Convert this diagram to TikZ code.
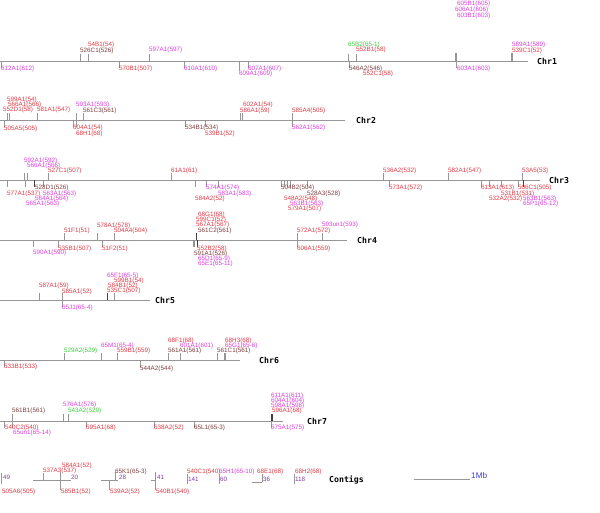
\documentclass[tikz,border=0pt]{standalone}
\usepackage{fontspec}
\setmainfont{Liberation Sans}
\newfontfamily\chrfont{DejaVu Sans Mono}
\usepackage{xcolor}
\usetikzlibrary{positioning}

\definecolor{lred}{RGB}{226,58,70}
\definecolor{lmag}{RGB}{222,62,222}
\definecolor{lgrn}{RGB}{60,206,60}
\definecolor{lbrn}{RGB}{128,62,62}
\definecolor{lpur}{RGB}{128,62,160}
\definecolor{lgray}{RGB}{150,150,150}
\definecolor{lblue}{RGB}{60,60,226}

\begin{document}
\begin{tikzpicture}[x=1pt, y=-1pt,
    lbl/.style={anchor=west, inner sep=0pt, font=\fontsize{6.3}{6.3}\selectfont},
    redlbl/.style={lbl, text=lred},
    maglbl/.style={lbl, text=lmag},
    grnlbl/.style={lbl, text=lgrn},
    brnlbl/.style={lbl, text=lbrn},
    purlbl/.style={lbl, text=lpur},
    chrname/.style={anchor=west, inner sep=0pt, font=\chrfont\bfseries\fontsize{8.2}{8.2}\selectfont},
    backbone/.style={draw=lgray, line width=0.8pt},
    tick/.style={draw=lgray, line width=0.8pt},
    darktick/.style={draw=black!75, line width=0.8pt}
]
    \path[fill=white, use as bounding box] (0,0) rectangle (600,513);

    % Chr1
    \coordinate (c1s) at (0,61);
    \coordinate (c1e) at (528,61);
    \draw[backbone] (c1s) -- (c1e);
    \node[chrname] (chr1) at (537,61) {Chr1};
    \draw[tick] (80,61) -- ++(0,-7) (88,61) -- ++(0,-7) (149,61) -- ++(0,-7)
        (348,61) -- ++(0,-7) (356,61) -- ++(0,-7)
        (1,61) -- ++(0,7) (119,61) -- ++(0,7) (184,61) -- ++(0,7) (239,61) -- ++(0,10)
        (248,61) -- ++(0,7) (349,61) -- ++(0,7) (456,61) -- ++(0,7);
    \draw[tick, line width=1.4pt] (456,61) -- ++(0,-8) (512,61) -- ++(0,-8);
    \node[maglbl] (c1a) at (1,69) {612A1(612)};
    \node[brnlbl] (c1b) at (80,51) {526C1(526)};
    \node[redlbl] (c1c) at (88,45) {54B1(54)};
    \node[redlbl] (c1d) at (119,69) {570B1(507)};
    \node[maglbl] (c1e) at (149,50) {597A1(597)};
    \node[maglbl] (c1f) at (184,69) {610A1(610)};
    \node[maglbl] (c1g) at (239,74) {609A1(609)};
    \node[maglbl] (c1h) at (248,69) {607A1(607)};
    \node[grnlbl] (c1i) at (348,45) {65B2(65-1)};
    \node[redlbl] (c1j) at (356,50) {552B1(58)};
    \node[brnlbl] (c1k) at (349,69) {546A2(546)};
    \node[redlbl] (c1l) at (363,74) {552C1(58)};
    \node[maglbl] (c1m) at (457,4) {605B1(605)};
    \node[maglbl] (c1n) at (455,10) {606A1(606)};
    \node[maglbl] (c1o) at (457,16) {603B1(603)};
    \node[maglbl] (c1p) at (457,69) {603A1(603)};
    \node[maglbl] (c1q) at (512,45) {589A1(589)};
    \node[redlbl] (c1r) at (512,51) {539C1(52)};

    % Chr2
    \coordinate (c2s) at (0,120);
    \coordinate (c2e) at (345,120);
    \draw[backbone] (c2s) -- (c2e);
    \node[chrname] (chr2) at (356,120) {Chr2};
    \draw[tick] (7,120) -- ++(0,-7) (9,120) -- ++(0,-7) (37,120) -- ++(0,-7)
        (76,120) -- ++(0,-7) (83,120) -- ++(0,-7) (240,120) -- ++(0,-7)
        (242,120) -- ++(0,-7) (292,120) -- ++(0,-7)
        (4,120) -- ++(0,7) (73,120) -- ++(0,7) (76,120) -- ++(0,7)
        (185,120) -- ++(0,7) (205,120) -- ++(0,7) (292,120) -- ++(0,7);
    \node[redlbl] (c2a) at (7,100) {599A1(54)};
    \node[redlbl] (c2b) at (8,105) {566A1(566)};
    \node[redlbl] (c2c) at (3,110) {552D1(58)};
    \node[redlbl] (c2d) at (37,110) {581A1(547)};
    \node[maglbl] (c2e) at (76,105) {593A1(593)};
    \node[brnlbl] (c2f) at (83,111) {561C3(561)};
    \node[redlbl] (c2g) at (4,129) {505A5(505)};
    \node[redlbl] (c2h) at (73,128) {604A1(54)};
    \node[redlbl] (c2i) at (76,134) {68H1(68)};
    \node[brnlbl] (c2j) at (185,128) {534B1(534)};
    \node[redlbl] (c2k) at (205,134) {539B1(52)};
    \node[redlbl] (c2l) at (243,105) {602A1(54)};
    \node[redlbl] (c2m) at (240,111) {586A1(59)};
    \node[redlbl] (c2n) at (292,111) {585A4(505)};
    \node[maglbl] (c2o) at (292,128) {562A1(562)};

    % Chr3
    \coordinate (c3s) at (0,180);
    \coordinate (c3e) at (540,180);
    \draw[backbone] (c3s) -- (c3e);
    \node[chrname] (chr3) at (549,180) {Chr3};
    \draw[tick] (24,180) -- ++(0,-7) (27,180) -- ++(0,-7) (48,180) -- ++(0,-7)
        (171,180) -- ++(0,-7) (383,180) -- ++(0,-7) (448,180) -- ++(0,-7) (522,180) -- ++(0,-7)
        (7,180) -- ++(0,7) (25,180) -- ++(0,7) (43,180) -- ++(0,7) (195,180) -- ++(0,7)
        (206,180) -- ++(0,7) (218,180) -- ++(0,7) (281,180) -- ++(0,7) (284,180) -- ++(0,7)
        (287,180) -- ++(0,7) (290,180) -- ++(0,7) (307,180) -- ++(0,7) (389,180) -- ++(0,7)
        (481,180) -- ++(0,7) (489,180) -- ++(0,7) (501,180) -- ++(0,7) (518,180) -- ++(0,7);
    \draw[darktick] (34,180) -- ++(0,7) (523,180) -- ++(0,7);
    \node[maglbl] (c3a) at (24,161) {592A1(592)};
    \node[maglbl] (c3b) at (27,166) {566A1(566)};
    \node[redlbl] (c3c) at (48,171) {527C1(507)};
    \node[redlbl] (c3d) at (171,171) {61A1(61)};
    \node[redlbl] (c3e) at (7,194) {577A1(537)};
    \node[brnlbl] (c3f) at (35,188) {528D1(526)};
    \node[maglbl] (c3g) at (43,194) {563A1(563)};
    \node[maglbl] (c3h) at (35,199) {564A1(564)};
    \node[maglbl] (c3i) at (26,204) {565A1(563)};
    \node[maglbl] (c3j) at (206,188) {574A1(574)};
    \node[maglbl] (c3k) at (218,194) {583A1(583)};
    \node[redlbl] (c3l) at (195,199) {584A2(52)};
    \node[brnlbl] (c3m) at (281,188) {504B2(504)};
    \node[brnlbl] (c3n) at (307,194) {528A3(528)};
    \node[redlbl] (c3o) at (284,199) {548A2(548)};
    \node[maglbl] (c3p) at (290,204) {563B1(563)};
    \node[redlbl] (c3q) at (288,209) {579A1(507)};
    \node[redlbl] (c3r) at (383,171) {536A2(532)};
    \node[redlbl] (c3s) at (389,188) {573A1(572)};
    \node[redlbl] (c3t) at (448,171) {582A1(547)};
    \node[redlbl] (c3u) at (481,188) {613A1(613)};
    \node[redlbl] (c3v) at (501,194) {531B1(531)};
    \node[redlbl] (c3w) at (489,199) {532A2(532)};
    \node[redlbl] (c3x) at (518,188) {506C1(505)};
    \node[redlbl] (c3y) at (522,171) {53A5(53)};
    \node[maglbl] (c3z) at (523,199) {563B1(563)};
    \node[maglbl] (c3zz) at (523,204) {65P1(65-12)};

    % Chr4
    \coordinate (c4s) at (0,240);
    \coordinate (c4e) at (347,240);
    \draw[backbone] (c4s) -- (c4e);
    \node[chrname] (chr4) at (357,240) {Chr4};
    \draw[tick] (64,240) -- ++(0,-7) (97,240) -- ++(0,-7) (114,240) -- ++(0,-7)
        (297,240) -- ++(0,-7) (322,240) -- ++(0,-7)
        (33,240) -- ++(0,7) (58,240) -- ++(0,7) (102,240) -- ++(0,7)
        (297,240) -- ++(0,7);
    \draw[tick, line width=1.4pt] (194,240) -- ++(0,7);
    \draw[darktick] (196,240) -- ++(0,-7) (197,240) -- ++(0,7);
    \node[redlbl] (c4a) at (198,215) {68G1(68)};
    \node[redlbl] (c4b) at (196,220) {599C1(52)};
    \node[redlbl] (c4c) at (196,225) {567A1(567)};
    \node[brnlbl] (c4d) at (198,231) {561C2(561)};
    \node[redlbl] (c4e) at (64,231) {51F1(51)};
    \node[redlbl] (c4f) at (97,226) {578A1(578)};
    \node[redlbl] (c4g) at (114,231) {504A4(504)};
    \node[redlbl] (c4h) at (297,231) {572A1(572)};
    \node[maglbl] (c4i) at (322,225) {593un1(593)};
    \node[maglbl] (c4j) at (33,253) {590A1(590)};
    \node[redlbl] (c4k) at (58,249) {535B1(507)};
    \node[redlbl] (c4l) at (102,249) {51F2(51)};
    \node[redlbl] (c4m) at (197,249) {552B2(58)};
    \node[brnlbl] (c4n) at (194,254) {591A1(526)};
    \node[maglbl] (c4o) at (198,259) {65D1(65-9)};
    \node[maglbl] (c4p) at (198,264) {65E1(65-11)};
    \node[redlbl] (c4q) at (297,249) {606A1(559)};

    % Chr5
    \coordinate (c5s) at (0,300);
    \coordinate (c5e) at (150,300);
    \draw[backbone] (c5s) -- (c5e);
    \node[chrname] (chr5) at (155,300) {Chr5};
    \draw[tick] (39,300) -- ++(0,-7) (62,300) -- ++(0,-7) (114,300) -- ++(0,-7)
        (62,300) -- ++(0,7);
    \draw[darktick] (107,300) -- ++(0,-7);
    \node[redlbl] (c5a) at (39,286) {587A1(59)};
    \node[redlbl] (c5b) at (62,292) {585A1(52)};
    \node[maglbl] (c5c) at (107,276) {65F1(65-5)};
    \node[redlbl] (c5d) at (114,281) {599B1(54)};
    \node[redlbl] (c5e) at (108,286) {584B1(52)};
    \node[redlbl] (c5f) at (107,291) {535C1(507)};
    \node[maglbl] (c5g) at (62,308) {65J1(65-4)};

    % Chr6
    \coordinate (c6s) at (0,360);
    \coordinate (c6e) at (240,360);
    \draw[backbone] (c6s) -- (c6e);
    \node[chrname] (chr6) at (259,360) {Chr6};
    \draw[tick] (64,360) -- ++(0,-7) (101,360) -- ++(0,-7) (117,360) -- ++(0,-7)
        (168,360) -- ++(0,-7) (180,360) -- ++(0,-7) (217,360) -- ++(0,-7)
        (4,360) -- ++(0,7) (140,360) -- ++(0,7);
    \draw[tick, line width=1.4pt] (225,360) -- ++(0,-7);
    \node[grnlbl] (c6a) at (64,351) {529A2(529)};
    \node[maglbl] (c6b) at (101,346) {65M1(65-4)};
    \node[redlbl] (c6c) at (117,351) {559B1(559)};
    \node[redlbl] (c6d) at (168,341) {68F1(68)};
    \node[maglbl] (c6e) at (180,346) {601A1(601)};
    \node[brnlbl] (c6f) at (168,351) {561A1(561)};
    \node[redlbl] (c6g) at (225,341) {68H3(68)};
    \node[maglbl] (c6h) at (225,346) {65G1(65-6)};
    \node[brnlbl] (c6i) at (217,351) {561C1(561)};
    \node[redlbl] (c6j) at (4,367) {533B1(533)};
    \node[brnlbl] (c6k) at (140,369) {544A2(544)};

    % Chr7
    \coordinate (c7s) at (0,421);
    \coordinate (c7e) at (283,421);
    \draw[backbone] (c7s) -- (c7e);
    \node[chrname] (chr7) at (307,421) {Chr7};
    \draw[tick] (12,421) -- ++(0,-7) (63,421) -- ++(0,-7) (68,421) -- ++(0,-7)
        (4,421) -- ++(0,7) (12,421) -- ++(0,7) (86,421) -- ++(0,7)
        (154,421) -- ++(0,7) (194,421) -- ++(0,7) (271,421) -- ++(0,7);
    \draw[darktick] (271,421) -- ++(0,-7) (272,421) -- ++(0,-7);
    \node[brnlbl] (c7a) at (12,411) {561B1(561)};
    \node[maglbl] (c7b) at (63,405) {576A1(576)};
    \node[grnlbl] (c7c) at (68,411) {543A2(529)};
    \node[maglbl] (c7d) at (271,396) {611A1(611)};
    \node[maglbl] (c7e) at (271,401) {604A1(604)};
    \node[maglbl] (c7f) at (271,406) {598A1(598)};
    \node[redlbl] (c7g) at (272,411) {596A1(68)};
    \node[redlbl] (c7h) at (5,428) {540C2(540)};
    \node[maglbl] (c7i) at (13,433) {65un1(65-14)};
    \node[redlbl] (c7j) at (86,428) {595A1(68)};
    \node[redlbl] (c7k) at (154,428) {538A2(52)};
    \node[brnlbl] (c7l) at (194,428) {65L1(65-3)};
    \node[maglbl] (c7m) at (271,428) {575A1(575)};

    % Contigs
    \node[chrname] (ctg) at (329,480) {Contigs};
    \draw[tick] (1,473) -- (1,484)
        (33,480) -- (71,480) (43,480) -- ++(0,-7) (60,472) -- (60,490)
        (101,480) -- (118,480) (115,480) -- ++(0,-8) (109,480) -- ++(0,10)
        (151,480) -- (155,480) (155,472) -- (155,490)
        (187,474) -- (187,484) (219,474) -- (219,484)
        (252,482) -- (262,482) (262,482) -- ++(0,-8) (294,474) -- (294,484);
    \node[purlbl] (n49) at (3,477) {49};
    \node[redlbl] (k1) at (2,492) {505A6(505)};
    \node[redlbl] (k2) at (43,471) {537A3(537)};
    \node[redlbl] (k3) at (62,466) {584A1(52)};
    \node[purlbl] (n20) at (71,477) {20};
    \node[redlbl] (k4) at (61,492) {585B1(52)};
    \node[brnlbl] (k5) at (115,472) {65K1(65-3)};
    \node[purlbl] (n28) at (119,477) {28};
    \node[redlbl] (k6) at (110,492) {539A2(52)};
    \node[purlbl] (n41) at (157,477) {41};
    \node[redlbl] (k7) at (156,492) {540B1(540)};
    \node[redlbl] (k8) at (187,472) {540C1(540)};
    \node[purlbl] (n141) at (188,479) {141};
    \node[maglbl] (k9) at (219,472) {65H1(65-10)};
    \node[purlbl] (n60) at (220,479) {60};
    \node[redlbl] (k10) at (257,472) {68E1(68)};
    \node[purlbl] (n36) at (263,479) {36};
    \node[redlbl] (k11) at (295,472) {68H2(68)};
    \node[purlbl] (n118) at (295,479) {118};

    % Scale
    \coordinate (sc) at (414,479);
    \node[anchor=west, inner sep=0pt, text=lblue, font=\fontsize{8.2}{8.2}\selectfont] (mb) at (471,476) {1Mb};
    \draw[tick] (sc) -- (470,479);

\end{tikzpicture}
\end{document}
